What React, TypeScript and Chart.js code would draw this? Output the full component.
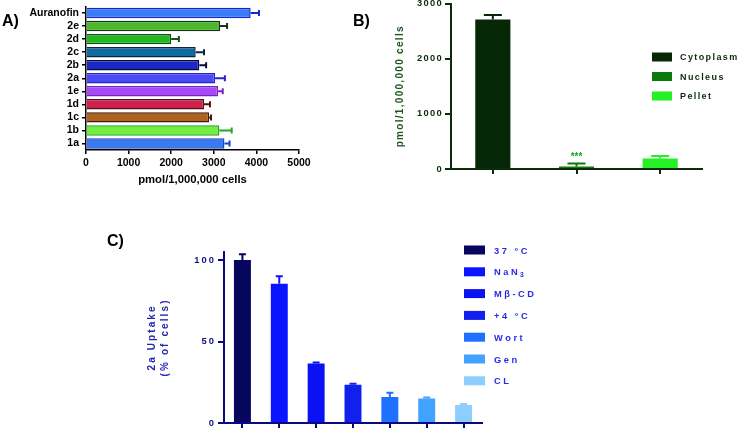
import React, { useEffect, useRef } from 'react';
import { Chart, registerables } from 'chart.js';

Chart.register(...registerables);

const FONT = '"Liberation Sans", Arial, Helvetica, sans-serif';

// ---------- Panel A ----------
const compounds = ['Auranofin', '2e', '2d', '2c', '2b', '2a', '1e', '1d', '1c', '1b', '1a'];
const uptakeValues = [3865, 3146, 2000, 2575, 2660, 3030, 3100, 2770, 2890, 3130, 3250];
const uptakeErrors = [195, 165, 180, 195, 160, 230, 110, 140, 45, 290, 120];
const compoundFill = ['#3c7cf6', '#4db82c', '#1fb81f', '#0f6aa0', '#1a2ac8', '#4a4af6', '#a64cf6', '#d02050', '#b0621f', '#72ee42', '#3a7af0'];
const compoundBorder = ['#1428d0', '#143414', '#125212', '#0c2442', '#0a0a40', '#2424d0', '#7a22c8', '#551010', '#3c1c08', '#22a822', '#1444d0'];
const uptakeTicks = [0, 1000, 2000, 3000, 4000, 5000];

// ---------- Panel B ----------
const fractions = ['Cytoplasm', 'Nucleus', 'Pellet'];
const fractionValues = [2710, 45, 190];
const fractionErrors = [80, 55, 45];
const fractionColors = ['#072807', '#0a7a0a', '#24f024'];
const fractionMarks = ['', '***', ''];
const fractionTicks = [0, 1000, 2000, 3000];

// ---------- Panel C ----------
const conditions = ['37 °C', 'NaN₃', 'Mβ-CD', '+4 °C', 'Wort', 'Gen', 'CL'];
const conditionValues = [100, 85.5, 36.5, 23.5, 16, 15, 11];
const conditionErrors = [3.5, 4.5, 0.6, 0.6, 2.5, 0.6, 0.6];
const conditionColors = ['#06065e', '#0a14ff', '#0a12f4', '#1220ee', '#2070ff', '#42a2ff', '#8ccfff'];
const conditionTicks = [0, 50, 100];

function errorBars(errors: number[], colors: string[], cap: number, width: number) {
  return {
    id: 'errorBars',
    afterDatasetsDraw(chart: any) {
      const ctx = chart.ctx;
      const horizontal = chart.options.indexAxis === 'y';
      const vs = horizontal ? chart.scales.x : chart.scales.y;
      const ds = chart.data.datasets[0];
      chart.getDatasetMeta(0).data.forEach((el: any, i: number) => {
        const v = ds.data[i] as number;
        const a = vs.getPixelForValue(v);
        const b = vs.getPixelForValue(v + errors[i]);
        ctx.save();
        ctx.strokeStyle = colors[i];
        ctx.lineWidth = width;
        ctx.beginPath();
        if (horizontal) {
          ctx.moveTo(a, el.y);
          ctx.lineTo(b, el.y);
          ctx.moveTo(b, el.y - cap / 2);
          ctx.lineTo(b, el.y + cap / 2);
        } else {
          ctx.moveTo(el.x, a);
          ctx.lineTo(el.x, b);
          ctx.moveTo(el.x - cap / 2, b);
          ctx.lineTo(el.x + cap / 2, b);
        }
        ctx.stroke();
        ctx.restore();
      });
    },
  };
}

function spacing(px: number) {
  return {
    id: 'spacing',
    beforeDraw(chart: any) {
      chart.ctx.letterSpacing = px + 'px';
    },
  };
}

function boxLegend(labels: string[], colors: string[], o: any) {
  return {
    id: 'boxLegend',
    afterDraw(chart: any) {
      const ctx = chart.ctx;
      ctx.save();
      ctx.textBaseline = 'middle';
      ctx.textAlign = 'left';
      ctx.letterSpacing = o.spacing + 'px';
      const normal = `bold ${o.size}px ${FONT}`;
      const small = `bold ${o.size * 0.72}px ${FONT}`;
      labels.forEach((l, i) => {
        const y = o.y + i * o.dy;
        ctx.fillStyle = colors[i];
        ctx.fillRect(o.x, y - o.h / 2, o.w, o.h);
        ctx.fillStyle = o.color;
        let x = o.textX;
        for (const ch of l) {
          const code = ch.charCodeAt(0);
          if (code >= 0x2080 && code <= 0x2089) {
            const d = String(code - 0x2080);
            ctx.font = small;
            ctx.fillText(d, x, y + 1 + o.size * 0.3);
            x += ctx.measureText(d).width;
          } else {
            ctx.font = normal;
            ctx.fillText(ch, x, y + 1);
            x += ctx.measureText(ch).width;
          }
        }
      });
      ctx.restore();
    },
  };
}

function marks(labels: string[], errors: number[], color: string) {
  return {
    id: 'marks',
    afterDatasetsDraw(chart: any) {
      const ctx = chart.ctx;
      const ds = chart.data.datasets[0];
      ctx.save();
      ctx.font = `bold 10px ${FONT}`;
      ctx.fillStyle = color;
      ctx.textAlign = 'center';
      ctx.textBaseline = 'bottom';
      ctx.letterSpacing = '0px';
      chart.getDatasetMeta(0).data.forEach((el: any, i: number) => {
        if (!labels[i]) return;
        const y = chart.scales.y.getPixelForValue((ds.data[i] as number) + errors[i]);
        ctx.fillText(labels[i], el.x, y - 1);
      });
      ctx.restore();
    },
  };
}

const toTicks = (arr: number[]) => (s: any) => {
  s.ticks = arr.map((v) => ({ value: v }));
};
const plain = (v: any) => String(v);

export default function App() {
  const refA = useRef<HTMLCanvasElement>(null);
  const refB = useRef<HTMLCanvasElement>(null);
  const refC = useRef<HTMLCanvasElement>(null);

  useEffect(() => {
    const bold = (size: number, lineHeight?: number) => ({ family: FONT, size, weight: 'bold' as const, lineHeight });

    // ---- Chart A ----
    const chartA = new Chart(refA.current!, {
      type: 'bar',
      data: {
        labels: compounds,
        datasets: [
          {
            data: uptakeValues,
            backgroundColor: compoundFill,
            borderColor: compoundBorder,
            borderWidth: 1.5,
            barPercentage: 0.8,
            categoryPercentage: 1,
          },
        ],
      },
      options: {
        animation: false,
        responsive: false,
        indexAxis: 'y',
        layout: { padding: { left: 0, top: 6.5, right: 439, bottom: 229 } },
        plugins: { legend: { display: false }, tooltip: { enabled: false } },
        scales: {
          x: {
            type: 'linear',
            min: 0,
            max: 5000,
            afterBuildTicks: toTicks(uptakeTicks),
            afterFit: (s: any) => {
              s.height = 50;
              s.paddingLeft = 0;
              s.paddingRight = 0;
            },
            grid: { drawOnChartArea: false, drawTicks: true, tickLength: 4, color: '#000', lineWidth: 1.5 },
            border: { display: true, color: '#000', width: 1.5 },
            ticks: { color: '#000', font: bold(10.5), padding: 3, maxRotation: 0, autoSkip: false, callback: plain },
            title: {
              display: true,
              text: 'pmol/1,000,000 cells',
              color: '#000',
              font: bold(11.3),
              padding: { top: 0, bottom: 13 },
            },
          },
          y: {
            type: 'category',
            afterFit: (s: any) => {
              s.width = 86;
              s.paddingTop = 0;
              s.paddingBottom = 0;
            },
            grid: { offset: false, drawOnChartArea: false, drawTicks: true, tickLength: 4, color: '#000', lineWidth: 1.5 },
            border: { display: true, color: '#000', width: 1.5 },
            ticks: { color: '#000', font: bold(10.5), padding: 3, autoSkip: false },
          },
        },
      } as any,
      plugins: [errorBars(uptakeErrors, compoundBorder, 6, 2)],
    });

    // ---- Chart B ----
    const G = '#0b2b0b';
    const chartB = new Chart(refB.current!, {
      type: 'bar',
      data: {
        labels: fractions,
        datasets: [
          {
            data: fractionValues,
            backgroundColor: fractionColors,
            borderWidth: 0,
            barPercentage: 0.42,
            categoryPercentage: 1,
          },
        ],
      },
      options: {
        animation: false,
        responsive: false,
        layout: { padding: { left: 380, top: 3.5, right: 36, bottom: 252 } },
        plugins: { legend: { display: false }, tooltip: { enabled: false } },
        scales: {
          x: {
            type: 'category',
            afterFit: (s: any) => {
              s.height = 8;
              s.paddingLeft = 0;
              s.paddingRight = 0;
            },
            grid: { offset: false, drawOnChartArea: false, drawTicks: true, tickLength: 5, color: G, lineWidth: 2 },
            border: { display: true, color: G, width: 2 },
            ticks: { display: false },
          },
          y: {
            type: 'linear',
            min: 0,
            max: 3000,
            afterBuildTicks: toTicks(fractionTicks),
            afterFit: (s: any) => {
              s.width = 71;
              s.paddingTop = 0;
              s.paddingBottom = 0;
            },
            grid: { drawOnChartArea: false, drawTicks: true, tickLength: 6, color: G, lineWidth: 2 },
            border: { display: true, color: G, width: 2 },
            ticks: { color: G, font: bold(9.3), padding: 2, callback: plain },
            title: {
              display: true,
              text: 'pmol/1,000,000 cells',
              color: '#1b551b',
              font: bold(10),
              padding: { top: 14, bottom: 0 },
            },
          },
        },
      } as any,
      plugins: [
        spacing(1.3),
        errorBars(fractionErrors, fractionColors, 18, 2),
        marks(fractionMarks, fractionErrors, '#1fa01f'),
        boxLegend(fractions, fractionColors, { x: 652, y: 57, dy: 19.5, w: 20, h: 9, textX: 680, size: 9, spacing: 1.4, color: G }),
      ],
    });

    // ---- Chart C ----
    const N = '#0a0a80';
    const chartC = new Chart(refC.current!, {
      type: 'bar',
      data: {
        labels: conditions,
        datasets: [
          {
            data: conditionValues,
            backgroundColor: conditionColors,
            borderWidth: 0,
            barPercentage: 0.46,
            categoryPercentage: 1,
          },
        ],
      },
      options: {
        animation: false,
        responsive: false,
        layout: { padding: { left: 100, top: 251.85, right: 256, bottom: 0 } },
        plugins: { legend: { display: false }, tooltip: { enabled: false } },
        scales: {
          x: {
            type: 'category',
            afterFit: (s: any) => {
              s.height = 6;
              s.paddingLeft = 0;
              s.paddingRight = 0;
            },
            grid: { offset: false, drawOnChartArea: false, drawTicks: true, tickLength: 5, color: N, lineWidth: 2 },
            border: { display: true, color: N, width: 2 },
            ticks: { display: false },
          },
          y: {
            type: 'linear',
            min: 0,
            max: 105,
            afterBuildTicks: toTicks(conditionTicks),
            afterFit: (s: any) => {
              s.width = 124;
              s.paddingTop = 0;
              s.paddingBottom = 0;
            },
            grid: { drawOnChartArea: false, drawTicks: true, tickLength: 6, color: N, lineWidth: 2 },
            border: { display: true, color: N, width: 2 },
            ticks: { color: '#10107a', font: bold(9.3), padding: 2, callback: plain },
            title: {
              display: true,
              text: ['2a Uptake', '(% of cells)'],
              color: '#2424b4',
              font: bold(10, 1.35),
              padding: { top: 45.2, bottom: 0 },
            },
          },
        },
      } as any,
      plugins: [
        spacing(2.1),
        errorBars(conditionErrors, conditionColors, 7, 2),
        boxLegend(conditions, conditionColors, { x: 464, y: 250, dy: 21.8, w: 21, h: 9, textX: 494, size: 9.3, spacing: 2.5, color: '#2a2ae6' }),
      ],
    });

    return () => {
      chartA.destroy();
      chartB.destroy();
      chartC.destroy();
    };
  }, []);

  const canvasStyle: React.CSSProperties = { position: 'absolute', left: 0, top: 0, width: 738, height: 429 };
  const labelStyle: React.CSSProperties = {
    position: 'absolute',
    fontFamily: FONT,
    fontWeight: 'bold',
    fontSize: 16,
    lineHeight: '16px',
    color: '#000',
  };

  return (
    <div style={{ position: 'absolute', left: 0, top: 0, width: 738, height: 429, background: '#fff', overflow: 'hidden' }}>
      <canvas ref={refA} width={738} height={429} style={canvasStyle} />
      <canvas ref={refB} width={738} height={429} style={canvasStyle} />
      <canvas ref={refC} width={738} height={429} style={canvasStyle} />
      <div style={{ ...labelStyle, left: 2, top: 13 }}>A)</div>
      <div style={{ ...labelStyle, left: 353, top: 13 }}>B)</div>
      <div style={{ ...labelStyle, left: 107, top: 233 }}>C)</div>
    </div>
  );
}
